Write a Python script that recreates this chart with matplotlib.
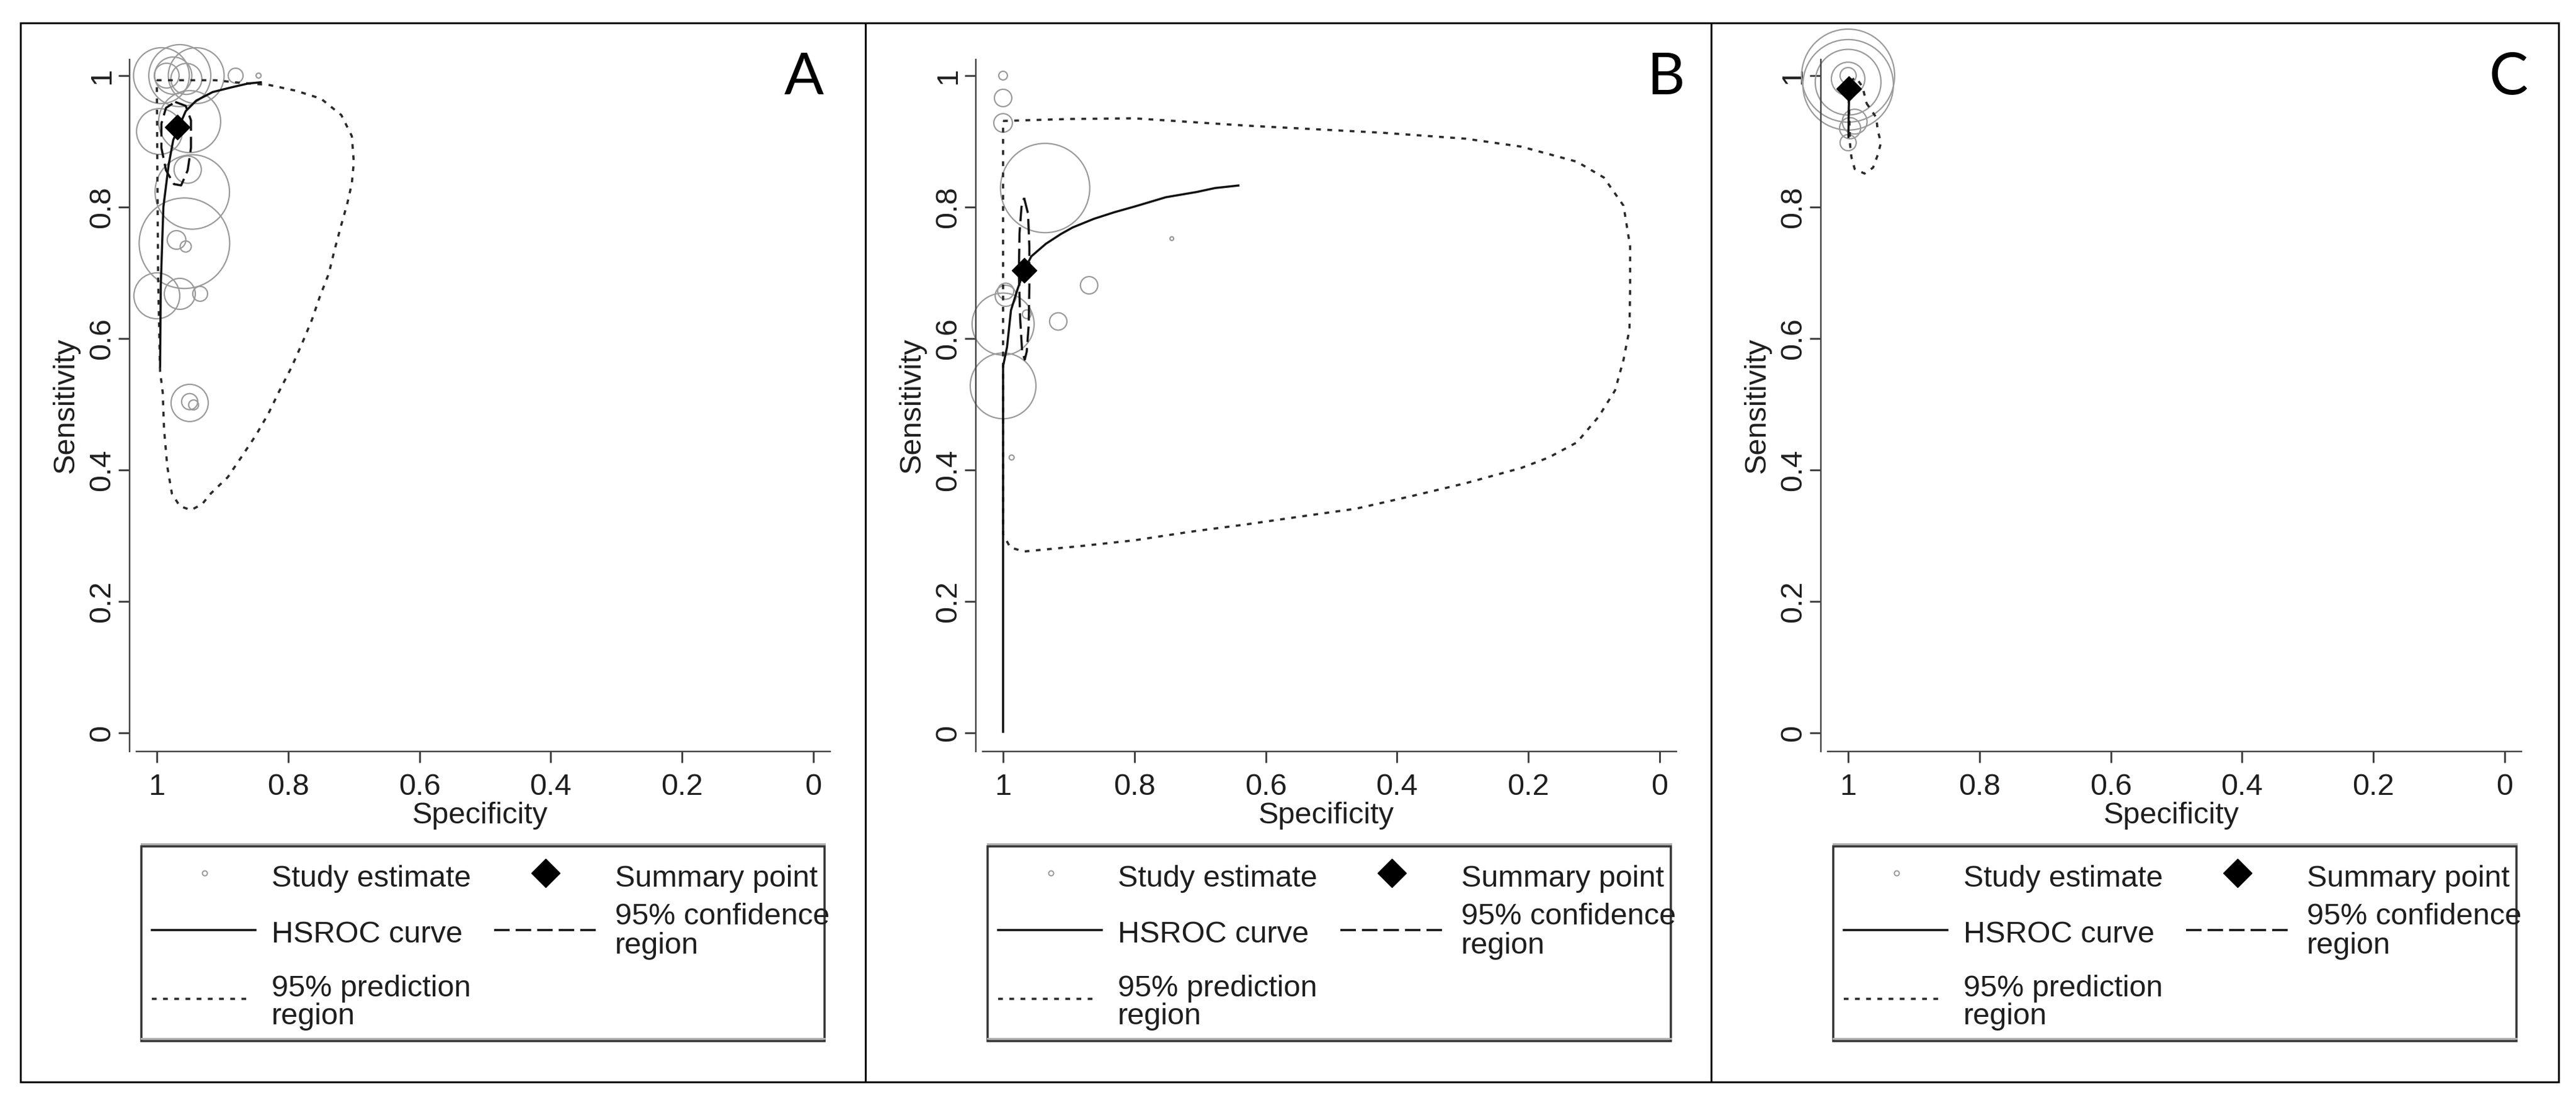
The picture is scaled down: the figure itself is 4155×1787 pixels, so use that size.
import matplotlib
matplotlib.use('Agg')
import matplotlib.pyplot as plt
from matplotlib.lines import Line2D
from matplotlib.patches import Rectangle

plt.rcParams['font.family'] = ['Liberation Sans', 'DejaVu Sans']
plt.rcParams['lines.scale_dashes'] = False

W, H = 4155, 1787
DPI = 100
PX = 72.0 / DPI  # points per pixel

# ---------------- data ----------------
panel_letters = ['A', 'B', 'C']
tick_values = [0, 0.2, 0.4, 0.6, 0.8, 1]
tick_labels = ['0', '0.2', '0.4', '0.6', '0.8', '1']
legend_labels = ['Study estimate', 'Summary point', 'HSROC curve',
                 '95% confidence\nregion', '95% prediction\nregion']
x_title = 'Specificity'
y_title = 'Sensitivity'

# Panel A: study estimates (specificity, sensitivity, relative bubble size)
a_spec = [0.993, 0.965, 0.940, 0.975, 0.955, 0.985, 0.880, 0.845, 0.996, 0.950,
          0.953, 0.946, 0.958, 0.970, 0.956, 1.000, 0.965, 0.934, 0.950, 0.950, 0.944]
a_sens = [1.000, 1.000, 1.000, 1.000, 0.995, 1.000, 1.000, 1.000, 0.915, 0.930,
          0.857, 0.823, 0.745, 0.750, 0.740, 0.665, 0.668, 0.668, 0.502, 0.504, 0.499]
a_size = [45, 50, 45, 30, 25, 20, 12, 4, 37, 50,
          22, 60, 73, 15, 9, 37, 25, 12, 30, 13, 8]
a_summary = (0.969, 0.922)
a_hsroc_spec = [0.995, 0.994, 0.990, 0.982, 0.975, 0.956, 0.940, 0.915, 0.887, 0.861, 0.840]
a_hsroc_sens = [0.556, 0.680, 0.800, 0.864, 0.902, 0.946, 0.962, 0.975, 0.982, 0.988, 0.990]
a_conf_spec = [0.972, 0.956, 0.948, 0.948, 0.953, 0.963, 0.974, 0.986, 0.993, 0.993, 0.986, 0.972]
a_conf_sens = [0.960, 0.954, 0.932, 0.890, 0.856, 0.833, 0.835, 0.856, 0.890, 0.927, 0.951, 0.960]
a_pred_spec = [1.000, 0.956, 0.911, 0.873, 0.830, 0.788, 0.750, 0.719, 0.703, 0.700, 0.703,
               0.710, 0.719, 0.729, 0.738, 0.752, 0.764, 0.779, 0.795, 0.814, 0.830, 0.849,
               0.871, 0.892, 0.918, 0.931, 0.948, 0.965, 0.977, 0.984, 0.989, 0.991, 0.995,
               0.998, 0.999, 1.000]
a_pred_sens = [0.993, 0.993, 0.993, 0.989, 0.986, 0.977, 0.965, 0.940, 0.908, 0.868, 0.836,
               0.805, 0.773, 0.736, 0.699, 0.663, 0.628, 0.592, 0.556, 0.519, 0.486, 0.453,
               0.420, 0.389, 0.364, 0.348, 0.339, 0.345, 0.364, 0.405, 0.462, 0.518, 0.550,
               0.691, 0.833, 0.993]

# Panel B
b_spec = [1.000, 1.000, 1.000, 0.936, 0.743, 0.869, 0.916, 0.996, 0.996, 1.000, 1.000, 0.987, 0.964]
b_sens = [1.000, 0.966, 0.928, 0.829, 0.752, 0.681, 0.626, 0.665, 0.672, 0.622, 0.528, 0.419, 0.637]
b_size = [7, 14, 15, 72, 3, 14, 14, 17, 13, 50, 53, 4, 7]
b_summary = (0.968, 0.704)
b_hsroc_spec = [1.000, 1.000, 0.994, 0.988, 0.978, 0.968, 0.957, 0.935, 0.912, 0.894, 0.862,
                0.831, 0.799, 0.752, 0.705, 0.677, 0.640]
b_hsroc_sens = [0.000, 0.558, 0.587, 0.643, 0.675, 0.704, 0.725, 0.744, 0.759, 0.769, 0.782,
                0.792, 0.801, 0.815, 0.823, 0.829, 0.833]
b_conf_spec = [0.968, 0.962, 0.960, 0.960, 0.961, 0.964, 0.967, 0.971, 0.974, 0.976, 0.975, 0.972, 0.968]
b_conf_sens = [0.814, 0.790, 0.740, 0.680, 0.620, 0.580, 0.568, 0.580, 0.630, 0.700, 0.760, 0.800, 0.814]
b_pred_spec = [1.000, 0.900, 0.800, 0.631, 0.421, 0.295, 0.211, 0.126, 0.085, 0.055, 0.045,
               0.045, 0.046, 0.055, 0.068, 0.093, 0.126, 0.169, 0.211, 0.295, 0.379, 0.463,
               0.548, 0.631, 0.715, 0.800, 0.884, 0.968, 0.989, 1.000, 1.000, 1.000]
b_pred_sens = [0.931, 0.934, 0.935, 0.924, 0.913, 0.904, 0.892, 0.869, 0.845, 0.802, 0.740,
               0.677, 0.614, 0.568, 0.521, 0.481, 0.442, 0.419, 0.403, 0.380, 0.360, 0.341,
               0.329, 0.317, 0.306, 0.293, 0.284, 0.276, 0.282, 0.302, 0.549, 0.931]

# Panel C
c_spec = [1.000, 1.000, 1.000, 1.000, 1.000, 1.000, 0.997, 0.990]
c_sens = [1.000, 0.986, 0.990, 0.995, 1.000, 0.898, 0.920, 0.930]
c_size = [75, 73, 53, 27, 13, 13, 17, 20]
c_summary = (0.999, 0.980)
c_hsroc_spec = [0.9995, 0.999, 0.998, 0.996]
c_hsroc_sens = [0.905, 0.950, 0.980, 0.995]
c_conf_spec = [0.993, 0.996, 1.000, 1.000, 0.997, 0.993, 0.993]
c_conf_sens = [0.975, 0.965, 0.968, 0.985, 0.991, 0.985, 0.975]
c_pred_spec = [0.972, 0.957, 0.955, 0.950, 0.955, 0.962, 0.975, 0.990, 0.995, 0.997, 0.998,
               0.999, 0.997, 0.988, 0.978, 0.972]
c_pred_sens = [0.958, 0.936, 0.917, 0.898, 0.879, 0.860, 0.851, 0.858, 0.876, 0.895, 0.926,
               0.964, 0.992, 0.997, 0.983, 0.958]

panels = [
    (a_spec, a_sens, a_size, a_summary, a_hsroc_spec, a_hsroc_sens, a_conf_spec, a_conf_sens, a_pred_spec, a_pred_sens),
    (b_spec, b_sens, b_size, b_summary, b_hsroc_spec, b_hsroc_sens, b_conf_spec, b_conf_sens, b_pred_spec, b_pred_sens),
    (c_spec, c_sens, c_size, c_summary, c_hsroc_spec, c_hsroc_sens, c_conf_spec, c_conf_sens, c_pred_spec, c_pred_sens),
]

# ---------------- styles / layout ----------------
TXT = '#1e1e1e'
AXC = '#444444'
CIRC = '#9a9a9a'
FS = 35
PRED_DASH = (0, (5.5, 7.5))
CONF_DASH = (0, (18.0, 7.0))
LW_CURVE = 3.5 * PX
LW_PRED = 3.6 * PX

fig = plt.figure(figsize=(W / DPI, H / DPI), dpi=DPI)
fig.patch.set_facecolor('white')

ov = fig.add_axes([0, 0, 1, 1])
ov.set_xlim(0, W)
ov.set_ylim(H, 0)
ov.axis('off')

# outer panel frames
frame_lw = 3 * PX
for x0, x1 in [(33, 1396), (1396, 2760), (2760, 4127)]:
    ov.add_patch(Rectangle((x0, 37), x1 - x0, 1745 - 37, fill=False,
                           edgecolor='black', lw=frame_lw))

axes_left = [209, 1574, 2937]
legend_left = [228, 1593, 2957]
letter_x = [1297, 2687, 4046]
AX_W, AX_TOP, AX_BOT = 1130, 96, 1212

for i, (spec, sens, size, summ, hs_x, hs_y, cf_x, cf_y, pr_x, pr_y) in enumerate(panels):
    left = axes_left[i]
    ax = fig.add_axes([left / W, 1 - AX_BOT / H, AX_W / W, (AX_BOT - AX_TOP) / H])
    ax.patch.set_alpha(0)
    ax.set_xlim(1.0415, -0.0255)
    ax.set_ylim(-0.0283, 1.0245)
    for s in ['top', 'right']:
        ax.spines[s].set_visible(False)
    for s in ['left', 'bottom']:
        ax.spines[s].set_color(AXC)
        ax.spines[s].set_linewidth(2.5 * PX)
    ax.spines['bottom'].set_bounds(1.031, -0.0255)
    ax.set_xticks(tick_values)
    ax.set_xticklabels(tick_labels)
    ax.set_yticks(tick_values)
    ax.set_yticklabels(tick_labels, rotation=90, va='center')
    ax.tick_params(axis='both', direction='out', length=18 * PX, width=3 * PX,
                   color=AXC, labelsize=FS, labelcolor=TXT)
    ax.tick_params(axis='x', pad=12)
    ax.tick_params(axis='y', pad=3)

    # study estimates
    ax.scatter(spec, sens, s=[(2 * r * PX) ** 2 for r in size], facecolors='none',
               edgecolors=CIRC, linewidths=2.2 * PX, zorder=2, clip_on=False)
    # prediction region
    ax.plot(pr_x, pr_y, color='#2a2a2a', lw=LW_PRED, linestyle=PRED_DASH, zorder=3, clip_on=False)
    # confidence region
    ax.plot(cf_x, cf_y, color='#111111', lw=LW_CURVE, linestyle=CONF_DASH, zorder=4, clip_on=False)
    # HSROC curve
    ax.plot(hs_x, hs_y, color='#111111', lw=LW_CURVE, solid_capstyle='butt', zorder=4, clip_on=False)
    # summary point
    ax.plot([summ[0]], [summ[1]], marker='D', markersize=20, color='black', zorder=6,
            linestyle='none', clip_on=False)

    ax.text(0.5, -0.0925, x_title, transform=ax.transAxes, ha='center', va='center',
            fontsize=FS, color=TXT)
    ax.text(-0.0912, 0.5, y_title, transform=ax.transAxes, ha='center', va='center',
            rotation=90, fontsize=FS, color=TXT)

    # panel letter
    ov.text(letter_x[i], 126, panel_letters[i], ha='center', va='center',
            fontsize=68, family=['Lato', 'DejaVu Sans'], color='black')

    # legend box
    L = legend_left[i]
    R = L + 1102
    ov.add_line(Line2D([L, R], [1361, 1361], color='#b0b0b0', lw=3 * PX))
    ov.add_line(Line2D([L, R], [1675, 1675], color='#b0b0b0', lw=3 * PX))
    ov.add_patch(Rectangle((L, 1364.5), R - L, 1678.5 - 1364.5, fill=False,
                           edgecolor='#333333', lw=3.5 * PX))
    # entries
    ov.add_line(Line2D([L + 102], [1408], marker='o', markersize=8 * PX, markerfacecolor='none',
                       markeredgecolor=CIRC, markeredgewidth=2 * PX, linestyle='none'))
    ov.text(L + 210, 1430, legend_labels[0], ha='left', va='baseline', fontsize=FS, color=TXT)
    ov.add_line(Line2D([L + 652], [1408], marker='D', markersize=23, color='black',
                       linestyle='none'))
    ov.text(L + 764, 1430, legend_labels[1], ha='left', va='baseline', fontsize=FS, color=TXT)
    ov.add_line(Line2D([L + 17, L + 184], [1500, 1500], color='#111111', lw=LW_CURVE))
    ov.text(L + 210, 1520, legend_labels[2], ha='left', va='baseline', fontsize=FS, color=TXT)
    ov.add_line(Line2D([L + 569, L + 737], [1500, 1500], color='#111111', lw=LW_CURVE,
                       linestyle=CONF_DASH))
    conf1, conf2 = legend_labels[3].split('\n')
    ov.text(L + 764, 1491, conf1, ha='left', va='baseline', fontsize=FS, color=TXT)
    ov.text(L + 764, 1538, conf2, ha='left', va='baseline', fontsize=FS, color=TXT)
    ov.add_line(Line2D([L + 17, L + 177], [1611, 1611], color='#2a2a2a', lw=LW_PRED,
                       linestyle=PRED_DASH))
    pred1, pred2 = legend_labels[4].split('\n')
    ov.text(L + 210, 1607, pred1, ha='left', va='baseline', fontsize=FS, color=TXT)
    ov.text(L + 210, 1652, pred2, ha='left', va='baseline', fontsize=FS, color=TXT)

fig.savefig('out.png', dpi=DPI, facecolor='white')
